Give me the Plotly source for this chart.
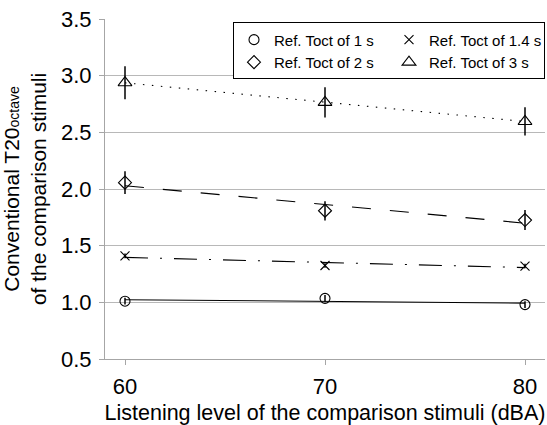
import numpy as np
import plotly.graph_objects as go

levels = [60, 70, 80]
names = ["Ref. Toct of 1 s", "Ref. Toct of 1.4 s", "Ref. Toct of 2 s", "Ref. Toct of 3 s"]
t1 = [1.01, 1.035, 0.98]
t14 = [1.41, 1.325, 1.32]
t2 = [2.056, 1.808, 1.726]
t3 = [2.938, 2.764, 2.596]
e1 = [0.03, 0.03, 0.03]
e14 = [0.02, 0.02, 0.02]
e2 = [0.10, 0.085, 0.088]
e3 = [0.145, 0.134, 0.125]

series = [t1, t14, t2, t3]
errors = [e1, e14, e2, e3]
symbols = ["circle-open", "x-thin-open", "diamond-open", "triangle-up-open"]
sizes = [10, 9, 10, 12]
dashes = ["solid", "23px,12px,2px,12px", "19px,19px", "1.5px,7.5px"]

FONT = "Liberation Sans, Arial, sans-serif"
fig = go.Figure()

# trend lines (linear fit)
for ys, d in zip(series, dashes):
    a, b = np.polyfit(levels, ys, 1)
    fy = [a * x + b for x in levels]
    fig.add_trace(go.Scatter(x=levels, y=fy, mode="lines", showlegend=False,
                             hoverinfo="skip",
                             line=dict(color="black", width=1.1, dash=d)))

for ys, es, sym, sz, nm in zip(series, errors, symbols, sizes, names):
    fig.add_trace(go.Scatter(
        x=levels, y=ys, mode="markers", name=nm,
        marker=dict(symbol=sym, size=sz, color="black", line=dict(color="black", width=1.1)),
        error_y=dict(type="data", array=es, visible=True, color="black", thickness=1.5, width=0),
    ))

fig.update_layout(
    width=547, height=425,
    margin=dict(l=105, r=2, t=19, b=66),
    paper_bgcolor="white", plot_bgcolor="white",
    font=dict(family=FONT, color="black", size=21),
    showlegend=True,
    legend=dict(orientation="h", x=1, xanchor="right", y=0.99, yanchor="top",
                bgcolor="white", bordercolor="black", borderwidth=1,
                font=dict(size=15, family=FONT), entrywidth=110, itemwidth=30,
                traceorder="normal"),
    xaxis=dict(range=[59, 81], tickvals=levels, ticks="outside", ticklen=5, tickcolor="#a6a6a6",
               showline=True, linecolor="#a6a6a6", showgrid=False, zeroline=False,
               tickfont=dict(size=22), automargin=False, ticklabelstandoff=3,
               title=dict(text="Listening level of the comparison stimuli (dBA)", font=dict(size=21.5), standoff=6)),
    yaxis=dict(range=[0.5, 3.5], dtick=0.5, tickformat=".1f", ticks="outside", ticklen=5,
               tickcolor="#a6a6a6", showline=True, linecolor="#a6a6a6", showgrid=True,
               gridcolor="#b8b8b8", gridwidth=1, zeroline=False, tickfont=dict(size=22),
               automargin=False, ticklabelstandoff=3,
               title=dict(text="Conventional T20<span style='font-size:14px'>octave</span><br>of the comparison stimuli",
                          font=dict(size=21), standoff=9)),
)

fig.write_html("out.html")
